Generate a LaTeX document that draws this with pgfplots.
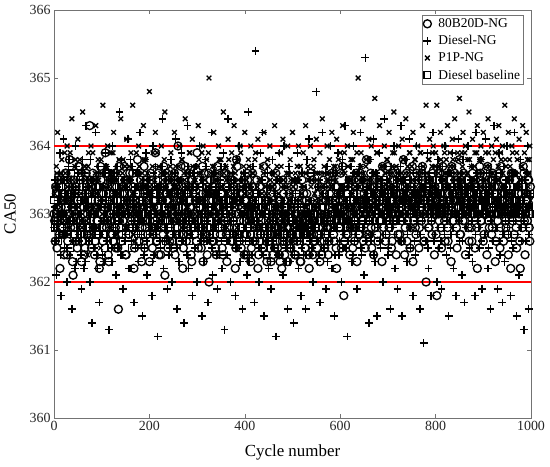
\documentclass[border=0pt]{standalone}
\usepackage{fontspec}
\setmainfont{Liberation Serif}
\usepackage{pgfplots}
\usepackage{pgfplotstable}
\pgfplotsset{compat=1.18}
% cycles 0, 2.5, 5, ...
\pgfplotstableread{
a b c d
363.0 362.8 363.4 363.2
362.6 363.5 363.1 362.9
363.3 362.1 363.7 363.0
362.9 363.2 364.2 363.3
363.5 362.7 362.9 363.1
362.2 363.9 363.3 362.8
363.1 361.8 363.6 363.4
363.4 363.0 363.0 363.0
362.7 364.1 362.7 363.2
363.2 362.5 363.9 362.9
363.6 363.3 363.2 363.1
362.4 362.0 364.0 363.5
363.0 363.7 363.5 362.7
363.8 362.4 362.8 363.0
362.8 363.1 363.4 363.3
363.3 361.6 364.4 363.1
362.1 363.4 363.1 362.8
363.5 362.9 362.6 363.2
363.0 364.0 363.8 363.4
362.6 362.3 363.3 363.0
363.2 363.6 364.1 362.9
363.7 362.6 363.0 363.3
362.9 363.0 363.6 363.1
362.3 361.9 362.9 363.6
363.4 363.8 364.5 362.8
363.1 362.2 363.2 363.2
362.5 363.3 363.7 363.0
363.6 364.3 363.1 363.4
363.0 362.7 362.4 362.7
362.8 363.1 363.9 363.1
364.3 362.0 363.4 363.3
362.7 363.5 364.0 362.9
363.3 361.4 363.0 363.2
363.1 363.0 363.5 363.0
362.4 362.8 362.8 363.5
363.5 364.2 364.3 363.1
362.9 362.4 363.3 362.8
363.2 363.7 363.8 363.2
362.2 361.7 363.1 363.4
363.7 363.2 362.5 363.0
363.0 362.9 363.6 363.3
362.6 363.4 364.6 362.7
363.4 362.3 363.2 363.1
363.9 363.9 363.0 363.2
362.8 362.6 363.7 363.6
363.1 363.1 364.0 362.9
362.3 361.3 363.4 363.0
363.5 363.6 362.9 363.3
363.0 362.5 363.9 363.1
362.7 364.0 363.2 362.8
363.3 362.8 364.2 363.2
363.6 363.3 363.5 363.4
362.5 362.1 363.1 363.0
363.2 363.7 362.7 363.1
361.6 362.9 363.6 362.9
363.0 364.5 363.3 363.5
362.8 362.4 364.4 363.2
363.4 363.0 363.0 362.7
362.9 361.9 363.8 363.1
363.7 363.5 363.4 363.3
362.4 362.7 362.8 363.0
363.1 363.2 364.1 363.2
363.5 364.1 363.2 363.4
362.7 362.2 363.7 362.8
363.2 363.8 363.5 363.1
362.9 362.6 363.0 363.3
363.6 363.1 364.6 363.0
362.2 361.7 363.3 363.5
363.0 363.4 362.6 362.9
363.3 362.8 363.9 363.2
363.8 363.6 363.1 363.1
362.6 362.3 364.0 363.0
363.1 364.2 363.4 363.4
363.4 362.9 362.9 362.7
362.8 361.5 363.6 363.2
363.0 363.3 364.3 363.1
362.5 362.5 363.2 363.3
363.5 363.9 363.8 362.9
362.9 362.1 363.0 363.2
363.2 363.5 363.5 363.0
362.3 362.7 364.8 363.4
363.6 363.1 363.3 363.1
363.0 361.8 362.7 362.8
362.7 364.0 363.9 363.3
363.3 362.4 363.1 363.0
363.9 363.7 364.2 363.2
362.6 362.9 363.4 362.9
363.1 361.2 363.0 363.4
362.4 363.4 363.7 363.1
363.4 362.6 362.8 363.0
362.8 363.2 364.0 363.2
363.2 364.4 363.5 363.5
363.7 362.2 363.2 362.8
362.1 363.6 364.5 363.1
363.0 362.8 363.0 363.3
362.9 361.9 363.6 363.0
363.5 363.3 363.3 363.2
362.6 362.5 362.6 362.9
363.3 363.8 363.9 363.4
363.0 362.0 363.1 363.1
362.5 363.1 363.4 363.0
363.6 362.7 364.2 363.3
363.1 364.1 363.7 362.7
362.8 361.6 362.9 363.2
364.0 363.5 363.5 363.1
362.7 362.3 364.0 363.4
363.2 363.0 363.2 362.9
363.4 363.9 363.8 363.0
362.2 362.6 363.0 363.2
363.0 361.4 363.6 363.3
363.7 363.3 364.4 363.1
362.6 362.9 363.1 362.8
363.3 364.3 363.4 363.0
362.9 362.2 362.7 363.4
363.1 363.6 363.9 363.2
362.4 362.8 363.3 363.1
363.5 361.8 364.1 362.9
363.0 363.4 363.5 363.3
362.7 362.5 363.0 363.0
363.2 363.7 363.7 363.2
363.9 362.0 362.8 363.5
362.5 363.2 364.3 362.8
363.1 364.0 363.6 363.1
362.8 362.7 363.2 363.2
363.4 361.5 363.9 363.0
362.3 363.5 364.0 363.3
363.6 362.3 363.1 362.9
363.0 363.8 362.6 363.1
362.7 362.9 363.8 363.4
363.3 361.7 363.4 363.0
362.0 363.3 365.0 363.2
363.5 362.6 363.3 362.8
362.9 364.2 363.0 363.1
363.2 362.1 363.7 363.3
362.6 363.6 364.2 363.0
363.4 362.8 363.5 363.4
362.4 363.0 362.9 362.9
363.7 361.9 363.6 363.2
363.0 363.4 364.0 363.1
362.8 362.4 363.2 363.0
363.3 363.7 363.8 363.3
362.5 362.2 363.4 362.8
363.1 363.9 364.5 363.1
362.9 361.3 363.1 363.2
363.6 363.1 363.7 363.0
362.3 362.6 362.8 363.4
363.2 364.4 364.1 362.9
362.7 362.9 363.5 363.1
363.5 362.0 363.0 363.3
363.0 363.5 363.9 363.0
362.6 362.7 363.3 363.2
363.4 363.3 364.3 362.8
362.2 361.8 363.6 363.1
363.8 363.8 362.7 363.4
363.0 362.5 363.8 363.0
362.7 364.0 363.2 363.2
363.3 362.3 364.0 362.9
362.5 363.2 363.4 363.1
363.1 361.6 363.1 363.3
362.9 363.6 363.7 362.7
363.2 362.8 364.2 363.0
362.4 363.4 363.5 363.2
363.6 362.1 363.0 362.8
362.8 364.5 363.8 363.1
363.0 362.6 363.3 363.3
362.3 363.1 364.0 362.9
363.4 362.4 362.9 363.0
362.6 363.7 363.6 363.2
363.1 361.7 363.2 362.8
362.9 365.4 363.9 363.1
363.5 362.9 363.1 363.0
362.2 363.3 364.1 362.7
363.0 362.0 363.5 363.2
362.7 363.9 362.8 363.0
363.3 362.5 363.7 362.9
362.5 364.2 363.0 363.1
363.7 361.5 364.2 362.8
362.8 363.0 363.4 363.2
362.4 362.7 363.1 363.0
363.2 363.6 363.8 362.9
362.6 362.2 363.3 362.8
363.1 363.4 364.0 363.1
362.3 361.9 362.9 362.7
363.4 363.8 363.6 363.0
362.9 362.6 363.2 362.9
362.5 363.1 364.3 363.1
363.6 361.2 363.0 362.8
362.7 363.5 363.7 363.0
363.0 362.4 362.7 362.7
362.4 363.9 363.5 363.2
363.2 362.8 363.9 362.9
362.2 363.2 363.1 362.8
363.5 362.1 364.1 363.0
362.6 364.0 363.4 362.7
363.0 362.5 362.8 363.1
362.8 363.3 363.6 362.9
362.3 361.6 364.0 362.8
363.3 363.7 363.2 363.0
362.5 362.3 363.8 362.7
363.1 363.0 363.3 363.1
362.7 362.6 364.2 362.9
363.4 361.4 363.0 362.8
362.4 363.5 363.5 363.0
363.0 362.9 362.9 362.7
362.6 363.9 363.7 363.1
363.2 362.2 364.0 362.9
362.9 363.3 363.2 362.8
362.3 361.8 363.6 363.0
363.5 363.6 362.8 363.2
362.7 362.4 363.9 362.9
363.0 363.1 363.4 362.8
362.5 361.6 364.3 363.0
363.3 363.8 363.1 362.7
362.8 362.7 363.7 363.1
362.2 364.1 363.0 362.9
363.6 362.4 364.0 363.0
362.9 363.2 363.5 362.8
362.4 362.0 362.9 363.1
363.2 363.6 363.8 362.9
362.6 362.8 363.2 363.0
363.1 364.8 364.1 362.8
362.7 362.3 363.6 363.1
363.4 363.5 363.0 362.9
362.3 361.7 363.9 363.0
363.0 363.0 363.3 362.7
362.8 364.2 364.4 363.1
363.5 362.5 362.8 362.9
362.5 363.4 363.6 363.0
363.2 361.9 363.2 363.2
362.9 363.7 364.0 362.8
362.4 362.6 363.4 363.0
363.3 363.2 363.8 363.2
362.8 364.0 363.1 362.9
363.6 362.2 364.2 363.1
363.0 363.6 363.5 363.0
362.6 361.5 363.0 362.8
363.4 363.1 363.7 363.2
362.2 362.8 364.1 363.0
363.1 363.9 363.3 363.1
362.8 362.4 362.9 362.9
363.2 363.3 363.9 363.1
362.5 362.0 363.4 363.0
363.7 363.8 364.3 363.2
361.8 362.7 363.1 362.9
363.0 364.3 363.6 363.1
362.7 362.5 363.0 363.3
363.3 361.2 364.0 362.9
362.9 363.4 363.5 363.1
362.4 362.9 362.8 363.0
363.5 363.7 363.8 363.2
362.8 362.3 363.3 363.0
363.1 364.0 364.2 363.3
362.6 362.6 363.6 362.9
363.4 363.2 363.0 363.1
362.3 361.9 363.9 363.2
363.0 363.6 365.0 363.0
362.7 362.8 363.4 362.8
363.6 364.2 363.7 363.2
363.2 362.4 363.1 363.1
362.9 363.5 364.4 363.0
363.3 362.1 363.5 363.3
362.5 365.3 363.2 363.0
363.8 362.9 363.8 363.2
363.0 363.4 362.7 363.1
362.7 361.4 364.1 363.3
363.4 363.8 363.4 362.9
362.8 362.6 364.0 363.2
363.1 363.1 363.0 363.0
362.4 364.1 363.6 363.4
363.5 362.3 364.7 363.1
363.0 363.6 363.3 363.2
362.7 361.5 363.9 363.0
363.3 363.0 363.1 363.3
362.9 363.9 364.3 363.1
363.6 362.5 363.5 362.9
362.3 363.3 363.0 363.2
363.1 362.0 363.7 363.0
363.4 364.4 364.0 363.4
362.6 362.7 363.2 363.1
363.0 363.5 363.8 363.2
363.7 362.4 363.4 363.0
362.8 363.1 364.2 363.3
363.2 361.6 363.6 363.1
362.5 363.7 363.0 363.2
363.5 362.8 363.9 363.0
362.9 364.0 364.5 363.4
363.1 362.2 363.3 363.1
362.4 363.4 363.7 362.9
363.6 361.9 363.1 363.2
363.0 363.6 364.0 363.0
362.7 362.6 363.5 363.3
363.3 364.3 363.2 363.1
362.9 361.5 364.1 363.0
363.8 363.2 363.8 363.2
362.4 362.9 363.4 363.4
363.2 363.8 364.4 363.1
362.6 362.3 363.0 362.9
363.5 363.0 363.6 363.2
363.0 364.1 363.9 363.0
362.8 362.5 363.3 363.3
363.4 363.5 363.7 363.1
362.3 361.8 364.2 363.2
363.1 363.3 363.1 363.0
362.8 362.4 363.8 363.3
363.6 364.0 363.5 363.1
363.0 362.7 364.0 363.4
362.5 363.2 363.3 363.0
363.3 361.6 363.9 363.2
362.9 363.7 363.4 363.1
363.7 362.9 364.3 363.3
362.6 361.1 363.6 363.0
363.2 363.4 363.0 363.2
362.0 362.6 364.6 363.4
363.4 363.9 363.5 363.1
362.8 362.2 363.8 363.3
363.5 363.6 364.1 363.0
363.1 361.8 363.2 363.2
362.7 363.1 363.7 363.1
363.3 364.2 364.0 363.3
362.4 362.7 363.4 363.0
363.0 363.3 363.9 363.2
361.8 362.0 364.6 363.1
363.6 363.8 363.3 363.4
362.9 362.5 363.7 363.0
363.2 363.1 364.2 363.3
362.5 361.9 363.5 363.1
363.7 363.7 363.1 363.2
363.0 362.8 364.0 363.0
362.6 364.0 363.6 363.4
363.4 362.4 363.8 363.1
362.8 363.2 364.3 363.3
363.1 361.5 363.4 363.0
363.5 363.6 363.9 363.2
362.3 362.7 363.2 363.1
363.3 363.9 364.1 363.4
362.9 362.2 363.7 363.0
363.6 363.4 364.4 363.2
363.0 361.8 363.5 363.1
362.5 363.0 363.0 363.3
363.2 364.1 363.8 363.0
363.8 362.6 364.7 363.2
362.7 363.5 363.3 363.1
363.4 362.1 363.9 363.3
362.9 363.8 364.2 363.0
363.1 361.7 363.6 363.4
362.4 363.3 364.0 363.1
363.5 362.8 363.2 363.2
363.0 364.0 363.8 363.0
362.6 362.4 364.5 363.3
363.3 363.1 363.4 363.1
362.8 363.7 363.7 363.2
363.6 362.3 364.1 363.0
363.1 363.2 363.3 363.3
362.5 361.8 363.9 363.1
363.4 364.2 363.5 363.4
362.2 362.9 364.3 363.0
363.0 363.4 363.0 363.2
363.7 362.5 363.8 363.1
362.9 363.8 364.0 363.3
363.2 361.9 363.6 363.0
362.6 363.5 364.2 363.2
363.3 362.7 363.4 363.1
363.0 364.1 363.9 363.4
362.4 363.0 363.1 363.0
363.5 362.2 364.4 363.2
362.8 363.6 363.7 363.1
363.2 361.6 363.3 363.3
362.7 363.3 364.0 363.0
363.6 362.6 363.6 363.2
363.0 364.3 363.2 363.1
362.3 362.8 363.9 363.3
363.4 363.2 364.1 363.0
362.9 361.9 363.5 363.2
363.1 363.9 364.3 363.4
362.5 362.4 363.0 363.1
363.7 363.1 363.8 363.0
363.0 361.7 364.0 363.2
362.6 363.7 363.4 363.3
363.3 362.3 364.6 363.1
362.8 363.5 363.7 363.0
363.2 364.0 363.2 363.2
362.4 362.7 364.2 363.1
363.5 363.3 363.8 363.3
362.2 361.8 363.5 363.0
363.0 363.6 364.0 363.2
363.6 362.5 363.3 363.4
362.7 364.2 364.4 363.1
363.1 362.9 363.6 363.0
362.5 361.5 363.9 363.2
363.4 363.4 363.1 363.3
363.0 362.1 364.1 363.1
362.2 363.8 363.4 363.0
363.3 362.6 363.7 363.2
362.8 363.2 364.3 363.4
363.6 361.3 363.5 363.1
362.4 363.5 363.0 363.0
363.1 362.8 364.2 363.2
362.9 364.0 363.8 363.3
363.5 361.6 363.6 363.1
362.6 363.3 364.0 363.0
}\dataA
% cycles 1.25, 3.75, 6.25, ...
\pgfplotstableread{
a b c d
362.9 363.1 363.3 362.8
363.4 362.6 363.0 363.3
362.5 363.4 363.6 363.0
363.1 362.9 362.8 362.6
362.7 363.6 363.5 363.4
363.5 362.4 363.1 362.9
362.8 363.0 363.8 363.2
363.2 362.7 363.2 362.7
362.4 363.5 362.9 363.5
363.6 362.8 363.6 363.1
363.0 363.3 363.0 362.8
362.6 362.5 363.4 363.3
363.3 363.8 362.7 363.0
362.9 362.9 363.9 362.5
363.5 363.2 363.2 363.6
362.3 362.6 363.5 363.1
363.1 363.4 363.0 362.7
362.8 362.2 363.7 363.4
363.4 363.7 362.9 362.9
362.5 363.0 363.4 363.2
363.7 362.7 363.1 362.6
362.9 363.5 363.8 363.5
363.2 362.4 363.3 362.8
362.6 363.2 362.8 363.3
363.0 362.9 363.6 363.0
362.4 363.6 363.2 362.7
363.5 362.3 363.5 363.4
362.8 363.1 362.9 362.9
363.3 363.4 363.7 363.2
362.7 362.6 363.0 362.6
363.1 363.8 363.4 363.5
362.5 362.8 362.7 363.0
363.6 363.3 363.9 362.8
363.0 362.5 363.1 363.3
362.6 363.0 363.6 362.6
363.4 363.5 363.3 363.1
362.9 362.2 362.8 363.4
363.2 363.6 363.5 362.7
362.3 362.7 363.2 363.0
363.5 363.1 363.8 363.5
362.8 362.4 363.0 362.8
363.3 363.4 363.4 363.2
362.7 362.9 362.9 362.5
363.6 363.7 363.7 363.3
363.0 362.6 363.1 362.9
362.4 363.2 363.5 363.6
363.2 362.8 362.8 363.0
362.9 363.5 363.6 362.7
363.5 362.3 363.2 363.4
362.6 363.0 363.9 363.1
363.1 363.6 363.3 362.6
362.8 362.7 362.7 363.5
363.4 363.3 363.5 362.9
362.5 362.5 363.0 363.2
363.7 363.1 363.8 362.8
363.0 362.9 363.4 363.3
362.6 363.8 362.9 363.0
363.3 362.4 363.6 362.6
362.9 363.2 363.1 363.4
363.5 362.6 363.7 363.1
362.4 363.4 363.2 362.7
363.2 363.0 362.8 363.5
362.7 362.8 363.5 363.0
363.6 363.5 363.0 362.8
363.0 362.2 363.9 363.3
362.8 363.7 363.3 362.5
363.4 362.9 362.7 363.2
362.5 363.3 363.6 362.9
363.1 362.5 363.2 363.6
362.9 363.6 363.4 363.0
363.3 363.0 363.0 362.7
362.6 362.7 363.7 363.4
363.5 363.4 363.1 362.8
362.3 362.9 363.5 363.1
363.0 363.2 362.9 363.3
363.7 362.4 363.8 362.6
362.8 363.8 363.3 363.0
363.2 362.6 363.0 363.5
362.7 363.1 363.6 362.9
363.4 363.5 363.2 363.2
362.9 362.8 363.4 362.7
363.5 363.3 362.8 363.4
362.5 362.3 363.7 363.0
363.1 363.6 363.1 362.8
362.8 363.0 363.5 363.3
363.3 362.7 363.0 362.6
362.6 363.4 363.9 363.1
363.6 362.9 363.2 363.5
363.0 363.2 362.9 362.9
362.4 362.5 363.6 363.2
363.2 363.7 363.3 362.8
362.7 363.0 363.0 363.4
363.4 362.6 363.8 363.0
362.9 363.4 363.4 362.6
363.6 362.8 362.7 363.3
362.5 363.1 363.5 362.9
363.1 362.4 363.1 363.1
362.8 363.5 363.7 362.7
363.3 362.9 363.2 363.5
362.6 363.3 363.0 363.0
363.0 362.7 363.6 363.2
362.4 363.6 363.1 362.8
363.5 363.0 363.4 363.4
362.8 362.5 362.9 363.0
363.2 363.3 363.7 362.6
362.6 362.9 363.3 363.3
363.7 363.5 363.0 362.9
363.1 362.6 363.8 363.1
362.5 363.2 363.2 362.7
363.4 362.8 363.5 363.5
362.9 363.4 362.8 363.0
363.3 362.4 363.6 362.8
362.7 363.7 363.1 363.3
363.6 363.0 363.9 362.6
363.0 362.7 363.4 363.2
362.3 363.3 363.0 362.9
363.4 362.9 363.7 363.4
362.8 363.6 363.2 363.0
363.2 362.5 363.5 362.7
362.6 363.1 362.9 363.1
363.5 363.4 363.3 363.5
362.9 362.8 363.8 362.8
363.1 363.2 363.0 363.2
362.5 362.6 363.6 362.9
363.7 363.5 363.2 363.3
363.0 362.3 362.7 362.6
362.7 363.0 363.5 363.0
363.3 363.7 363.1 363.4
362.4 362.9 363.4 362.8
363.6 363.3 363.9 363.1
362.8 362.7 363.0 362.7
363.2 363.4 363.6 363.3
362.6 362.5 363.3 363.0
363.4 363.1 362.8 362.6
363.0 362.8 363.7 363.5
362.5 363.6 363.1 362.9
363.5 362.4 363.5 363.2
362.9 363.3 363.2 362.8
363.1 362.9 363.8 363.4
362.7 363.5 363.0 363.0
363.3 362.6 363.4 362.7
362.4 363.2 362.9 363.3
363.6 362.8 363.6 363.1
363.0 363.7 363.1 362.6
362.7 363.0 363.5 363.4
363.4 362.4 363.3 362.9
362.8 363.4 363.8 363.2
363.2 362.7 363.0 362.8
362.6 363.1 363.6 363.5
363.5 363.6 363.2 363.0
362.9 362.9 363.7 362.7
363.1 363.3 363.1 363.3
362.5 362.5 363.4 363.0
363.7 363.8 362.8 362.6
363.0 362.7 363.5 363.2
362.6 363.2 363.0 362.9
363.4 362.6 363.9 363.4
362.8 363.5 363.2 363.1
363.3 363.0 363.6 362.8
362.4 362.4 363.3 363.5
363.2 363.6 363.0 362.7
362.7 362.8 363.5 363.2
363.5 363.1 363.1 363.0
362.9 362.3 363.7 362.6
363.1 363.4 363.4 363.3
362.5 362.9 362.9 362.9
363.6 363.7 363.6 363.1
363.0 362.6 363.2 362.8
362.6 363.2 363.8 363.4
363.3 362.8 363.1 363.0
362.8 363.3 363.4 362.7
362.4 362.5 363.0 363.1
363.4 363.0 363.5 362.6
362.7 362.7 362.8 362.9
363.1 363.5 363.3 363.2
362.5 362.4 363.6 362.8
363.5 363.1 363.1 362.5
362.9 362.8 363.4 363.0
362.3 363.4 362.9 362.7
363.2 362.6 363.7 363.1
362.6 363.2 363.2 362.6
363.3 362.3 363.5 362.9
362.8 363.6 363.0 362.7
362.4 362.9 363.4 363.1
363.0 362.5 362.8 362.8
362.7 363.3 363.6 362.5
363.4 362.7 363.1 363.0
362.5 363.0 363.5 362.7
363.1 362.4 363.3 362.9
362.3 363.5 362.9 362.6
362.9 362.8 363.7 363.0
362.6 363.1 363.2 362.8
363.3 362.6 363.5 362.6
362.4 363.4 363.0 362.9
363.0 362.3 363.4 363.1
362.7 363.0 362.9 362.7
363.5 362.7 363.6 362.8
362.8 363.6 363.2 362.5
362.5 362.5 363.5 363.0
363.2 363.2 363.1 362.7
362.6 362.9 363.4 362.9
363.1 362.4 362.8 362.6
362.4 363.3 363.6 363.0
362.9 362.6 363.2 362.8
363.4 363.5 363.5 362.7
362.7 362.8 363.0 362.9
362.3 363.1 363.7 362.6
363.0 362.5 363.3 363.1
362.8 363.4 362.9 362.8
363.3 362.7 363.4 362.7
362.5 363.0 363.1 362.9
363.2 362.4 363.6 362.6
362.7 363.6 363.2 363.0
362.4 362.9 363.5 362.8
363.0 362.6 362.8 362.7
362.8 363.2 363.4 363.1
363.5 362.5 363.0 362.9
362.6 363.5 363.7 362.6
362.9 362.8 363.3 363.0
363.1 363.1 362.9 362.8
362.5 362.6 363.5 362.7
363.3 363.4 363.1 363.0
362.7 362.4 363.6 362.9
362.9 363.0 363.2 362.6
362.4 362.7 363.4 363.1
363.2 363.3 362.9 362.8
362.6 362.5 363.7 362.9
363.0 363.6 363.0 362.7
362.8 362.9 363.5 363.0
363.4 362.3 363.2 362.8
362.6 363.2 363.6 363.1
363.1 362.7 363.0 362.9
362.9 363.5 363.4 363.3
363.5 362.9 362.8 363.0
362.7 363.1 363.7 362.8
363.2 362.4 363.2 363.2
362.5 363.6 363.5 362.9
363.4 362.8 363.1 363.4
363.0 363.3 363.8 363.0
362.8 362.6 363.3 362.8
363.6 363.0 363.0 363.3
362.9 363.7 363.6 363.1
363.2 362.5 363.2 362.9
362.6 363.4 363.9 363.4
363.4 362.9 363.4 363.0
363.0 363.2 362.9 363.2
362.7 362.6 363.7 362.8
363.5 363.5 363.1 363.5
362.8 362.8 363.5 363.1
363.1 363.3 363.3 362.9
362.5 362.4 363.8 363.2
363.3 363.6 363.0 363.0
362.9 363.0 363.4 363.4
363.6 362.7 363.6 362.8
363.0 363.4 362.8 363.1
362.7 362.9 363.5 363.5
363.4 363.7 363.2 363.0
362.8 362.5 363.9 363.3
363.2 363.2 363.1 362.9
362.6 362.8 363.6 363.2
363.5 363.5 363.3 363.0
363.0 362.6 363.7 363.4
362.7 363.1 363.0 363.1
363.3 363.8 363.4 362.9
362.9 362.9 363.8 363.3
363.6 363.3 363.2 363.0
362.5 362.7 363.5 363.2
363.1 363.6 363.1 363.5
363.4 362.4 363.6 363.1
362.8 363.0 363.3 362.9
363.2 363.4 363.9 363.3
362.6 362.8 363.2 363.0
363.5 363.2 363.5 363.4
362.9 362.6 363.0 363.2
363.1 363.5 363.7 362.9
363.7 363.0 363.4 363.1
362.8 362.7 363.1 363.5
363.3 363.7 363.6 363.0
362.7 362.9 363.3 363.2
363.0 363.3 363.8 363.3
363.4 362.5 363.2 363.1
362.8 363.6 363.5 363.4
363.2 363.1 363.0 363.0
362.6 362.8 363.7 363.2
363.6 363.4 363.3 362.9
363.0 362.7 363.9 363.3
362.9 363.2 363.4 363.1
363.3 363.5 363.1 363.5
362.7 362.9 363.6 363.0
363.5 363.1 363.2 363.2
363.1 363.7 363.5 363.4
362.6 362.6 363.0 363.1
363.4 363.3 363.8 363.3
363.0 362.9 363.3 363.0
362.8 363.5 363.6 363.2
363.6 363.0 363.1 363.5
362.9 362.7 363.7 363.1
363.3 363.4 363.4 363.3
362.5 362.8 363.9 363.0
363.2 363.2 363.2 363.4
363.7 363.0 363.5 363.2
362.9 363.6 363.1 363.0
363.3 362.6 363.8 363.3
362.7 363.3 363.4 363.1
363.0 362.9 363.0 363.4
363.5 363.5 363.6 363.2
362.8 363.1 363.3 363.0
363.2 362.7 363.9 363.3
363.6 363.4 363.2 363.1
363.0 363.0 363.7 363.5
362.6 363.6 363.4 363.2
363.3 362.8 363.0 363.0
363.1 363.2 363.6 363.4
363.5 362.5 363.3 363.1
362.8 363.5 363.8 363.3
363.2 363.0 363.1 363.0
362.9 362.9 363.5 363.2
363.6 363.4 363.9 363.5
363.0 362.6 363.2 363.1
363.4 363.3 363.7 363.3
362.7 363.1 363.4 363.0
363.3 363.7 363.0 363.2
363.0 362.8 363.6 363.4
363.6 363.2 363.3 363.1
362.8 362.6 363.8 363.3
363.2 363.5 363.2 363.0
363.5 363.0 363.5 363.2
362.9 362.7 363.9 363.5
363.1 363.4 363.1 363.1
363.4 362.9 363.6 363.3
362.6 363.6 363.4 363.0
363.3 363.1 363.0 363.2
363.0 362.5 363.7 363.4
363.7 363.3 363.3 363.1
362.9 362.8 363.8 363.3
363.2 363.5 363.1 363.0
363.5 363.0 363.6 363.2
362.8 362.7 363.4 363.5
363.1 363.4 363.9 363.1
363.4 362.9 363.2 363.3
362.7 363.2 363.5 363.0
363.3 363.6 363.1 363.2
363.0 362.6 363.7 363.4
363.6 363.1 363.3 363.1
362.9 363.4 363.9 363.3
363.2 362.8 363.0 363.0
363.5 363.3 363.6 363.2
362.8 363.0 363.4 363.5
363.1 362.5 363.8 363.1
363.4 363.5 363.2 363.3
362.6 362.9 363.5 363.0
363.2 363.4 363.1 363.2
363.0 363.1 363.7 363.4
363.5 362.7 363.3 363.1
362.8 363.6 363.9 363.3
363.3 363.0 363.0 363.0
363.1 362.8 363.6 363.2
363.6 363.3 363.4 363.5
362.9 362.6 363.8 363.1
363.4 363.5 363.2 363.3
362.7 363.2 363.5 363.0
363.3 362.7 363.1 363.2
363.0 363.6 363.7 363.4
363.7 363.0 363.3 363.1
362.9 362.5 363.9 363.3
363.2 363.4 363.0 363.0
363.5 362.9 363.6 363.2
362.8 363.3 363.4 363.5
363.1 362.6 363.8 363.1
363.4 363.1 363.2 363.3
362.6 363.5 363.5 363.0
363.2 362.8 363.1 363.2
363.0 363.2 363.7 363.4
363.6 362.6 363.3 363.1
362.8 363.6 363.9 363.3
363.3 363.0 363.0 363.0
363.1 362.7 363.6 363.2
363.5 363.4 363.4 363.5
362.9 362.9 363.8 363.1
363.4 363.3 363.2 363.3
362.7 362.8 363.5 363.0
363.3 363.5 363.1 363.2
363.0 363.0 363.7 363.4
363.6 362.6 363.3 363.1
362.9 363.3 363.9 363.3
363.2 362.9 363.0 363.0
363.5 363.6 363.6 363.2
362.8 363.1 363.4 363.5
363.1 362.7 363.8 363.1
363.4 363.4 363.2 363.3
362.6 363.0 363.5 363.0
363.2 362.8 363.1 363.2
363.0 363.5 363.7 363.4
363.7 362.9 363.3 363.1
362.9 363.2 363.9 363.3
363.3 362.6 363.0 363.0
363.1 363.6 363.6 363.2
363.5 363.1 363.4 363.5
362.8 362.7 363.8 363.1
363.4 363.3 363.2 363.3
}\dataB
\begin{document}
\begin{tikzpicture}
\useasboundingbox (0,0) rectangle (550bp,467bp);
\begin{axis}[
  at={(54bp,49bp)}, anchor=south west,
  scale only axis, width=477bp, height=408bp,
  xmin=0, xmax=1000, ymin=360, ymax=366,
  xtick={0,200,...,1000}, ytick={360,361,...,366},
  tick align=inside, major tick length=4bp,
  axis line style={black!55, line width=0.6bp},
  tick style={black!55, line width=0.6bp},
  /pgf/number format/assume math mode=true,
  /pgf/number format/1000 sep={},
  ticklabel style={font=\fontsize{14}{15}\selectfont, text=black!85},
  xlabel={Cycle number}, ylabel={CA50},
  label style={font=\fontsize{17}{19}\selectfont},
  xlabel style={yshift=-7bp},
  ylabel style={yshift=7bp},
  legend style={at={(0.985,0.988)}, anchor=north east, draw=black!55, fill=white,
    font=\fontsize{13.5}{15}\selectfont, row sep=2.5bp, inner sep=1.5bp},
  legend cell align=left,
]
\addplot[only marks, mark=o, mark size=4bp, line width=1.35bp, black] table[x expr=\coordindex*2.5, y=a] {\dataA};
\addlegendentry{\hspace{5bp}80B20D-NG}
\addplot[only marks, mark=+, mark size=3.9bp, line width=1.45bp, black] table[x expr=\coordindex*2.5, y=b] {\dataA};
\addlegendentry{\hspace{5bp}Diesel-NG}
\addplot[only marks, mark=x, mark size=3.3bp, line width=1.35bp, black] table[x expr=\coordindex*2.5, y=c] {\dataA};
\addlegendentry{\hspace{5bp}P1P-NG}
\addplot[only marks, mark=square, mark size=3.3bp, line width=1.25bp, black] table[x expr=\coordindex*2.5, y=d] {\dataA};
\addlegendentry{\hspace{5bp}Diesel baseline}
\addplot[only marks, mark=o, mark size=4bp, line width=1.35bp, black, forget plot] table[x expr=1.25+\coordindex*2.5, y=a] {\dataB};
\addplot[only marks, mark=+, mark size=3.9bp, line width=1.45bp, black, forget plot] table[x expr=1.25+\coordindex*2.5, y=b] {\dataB};
\addplot[only marks, mark=x, mark size=3.3bp, line width=1.35bp, black, forget plot] table[x expr=1.25+\coordindex*2.5, y=c] {\dataB};
\addplot[only marks, mark=square, mark size=3.3bp, line width=1.25bp, black, forget plot] table[x expr=1.25+\coordindex*2.5, y=d] {\dataB};
\addplot[red, line width=1.2bp, forget plot] coordinates {(0,362) (1000,362)};
\addplot[red, line width=1.2bp, forget plot] coordinates {(0,364) (1000,364)};
\end{axis}
\end{tikzpicture}
\end{document}
